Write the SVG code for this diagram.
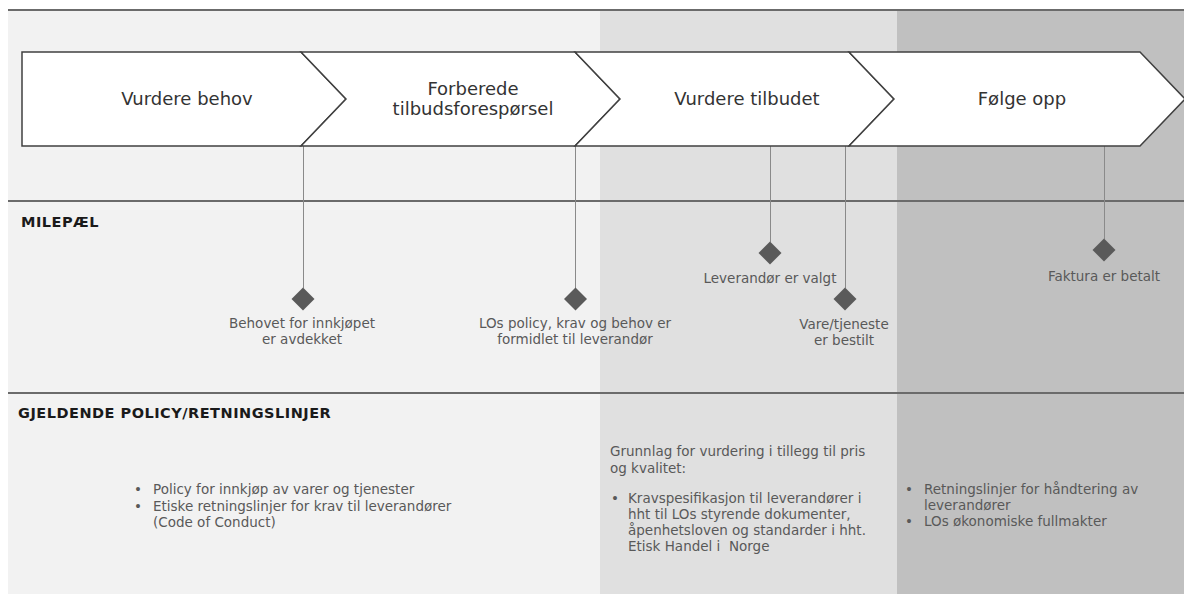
<svg xmlns="http://www.w3.org/2000/svg" width="1184" height="594" viewBox="0 0 1184 594">
<style>
.chev{fill:#fff;stroke:#404040;stroke-width:1.5;stroke-linejoin:miter}
.ct{font-family:"DejaVu Sans",Verdana,sans-serif;font-size:18px;fill:#333;text-anchor:middle}
.lbl{font-family:"DejaVu Sans",Verdana,sans-serif;font-size:13.5px;fill:#595959;text-anchor:middle}
.body{font-family:"DejaVu Sans",Verdana,sans-serif;font-size:13.5px;fill:#595959}
.hdr{font-family:"DejaVu Sans",Verdana,sans-serif;font-size:14.5px;font-weight:bold;fill:#1a1a1a;letter-spacing:0.5px}
.conn{stroke:#8a8a8a;stroke-width:1;fill:none}
.dia{fill:#5a5a5a}
.sep{stroke:#6b6b6b;stroke-width:2}
</style>
<rect x="0" y="0" width="1184" height="594" fill="#fff"/>
<g id="background">
<rect x="8" y="10" width="592" height="584" fill="#f2f2f2"/>
<rect x="600" y="10" width="297" height="584" fill="#e0e0e0"/>
<rect x="897" y="10" width="287" height="584" fill="#c0c0c0"/>
<line class="sep" x1="8" y1="10" x2="1184" y2="10" stroke="#808080"/>
<line class="sep" x1="8" y1="201" x2="1184" y2="201"/>
<line class="sep" x1="8" y1="393" x2="1184" y2="393"/>
</g>
<g id="connectors">
<line class="conn" x1="303.5" y1="146" x2="303.5" y2="288"/>
<line class="conn" x1="575.5" y1="146" x2="575.5" y2="288"/>
<line class="conn" x1="770.5" y1="146" x2="770.5" y2="242"/>
<line class="conn" x1="845.5" y1="146" x2="845.5" y2="288"/>
<line class="conn" x1="1104.5" y1="146" x2="1104.5" y2="239"/>
</g>
<g id="step-vurdere-behov">
<path class="chev" d="M22,52 H301 L346,99 L301,146 H22 Z"/>
<text class="ct" x="187" y="105">Vurdere behov</text>
</g>
<g id="step-forberede">
<path class="chev" d="M301,52 H575 L620,99 L575,146 H301 L346,99 Z"/>
<text class="ct" x="473" y="95">Forberede</text>
<text class="ct" x="473" y="115">tilbudsforespørsel</text>
</g>
<g id="step-vurdere-tilbudet">
<path class="chev" d="M575,52 H849 L894,99 L849,146 H575 L620,99 Z"/>
<text class="ct" x="747" y="105">Vurdere tilbudet</text>
</g>
<g id="step-folge-opp">
<path class="chev" d="M849,52 H1140 L1185,99 L1140,146 H849 L894,99 Z"/>
<text class="ct" x="1022" y="105">Følge opp</text>
</g>
<g id="header-milepael">
<text class="hdr" x="21" y="227">MILEPÆL</text>
</g>
<g id="milestone-1">
<path class="dia" d="M303,287.5 L314.5,299 L303,310.5 L291.5,299 Z"/>
<text class="lbl" x="302" y="328">Behovet for innkjøpet</text>
<text class="lbl" x="302" y="344">er avdekket</text>
</g>
<g id="milestone-2">
<path class="dia" d="M575.5,287.5 L587,299 L575.5,310.5 L564,299 Z"/>
<text class="lbl" x="575" y="328">LOs policy, krav og behov er</text>
<text class="lbl" x="575" y="344">formidlet til leverandør</text>
</g>
<g id="milestone-3">
<path class="dia" d="M770,241.5 L781.5,253 L770,264.5 L758.5,253 Z"/>
<text class="lbl" x="770" y="283">Leverandør er valgt</text>
</g>
<g id="milestone-4">
<path class="dia" d="M845,287.5 L856.5,299 L845,310.5 L833.5,299 Z"/>
<text class="lbl" x="844" y="329">Vare/tjeneste</text>
<text class="lbl" x="844" y="345">er bestilt</text>
</g>
<g id="milestone-5">
<path class="dia" d="M1104,238.5 L1115.5,250 L1104,261.5 L1092.5,250 Z"/>
<text class="lbl" x="1104" y="281">Faktura er betalt</text>
</g>
<g id="header-policy">
<text class="hdr" x="18" y="418">GJELDENDE POLICY/RETNINGSLINJER</text>
</g>
<g id="policy-left">
<text class="body" x="134" y="494">•</text>
<text class="body" x="153" y="494">Policy for innkjøp av varer og tjenester</text>
<text class="body" x="134" y="510.5">•</text>
<text class="body" x="153" y="510.5">Etiske retningslinjer for krav til leverandører</text>
<text class="body" x="153" y="527">(Code of Conduct)</text>
</g>
<g id="policy-middle">
<text class="body" x="610" y="456">Grunnlag for vurdering i tillegg til pris</text>
<text class="body" x="610" y="473">og kvalitet:</text>
<text class="body" x="611" y="503">•</text>
<text class="body" x="628" y="503">Kravspesifikasjon til leverandører i</text>
<text class="body" x="628" y="519">hht til LOs styrende dokumenter,</text>
<text class="body" x="628" y="535">åpenhetsloven og standarder i hht.</text>
<text class="body" x="628" y="551" style="white-space:pre">Etisk Handel i  Norge</text>
</g>
<g id="policy-right">
<text class="body" x="905" y="494">•</text>
<text class="body" x="924" y="494">Retningslinjer for håndtering av</text>
<text class="body" x="924" y="510">leverandører</text>
<text class="body" x="905" y="526">•</text>
<text class="body" x="924" y="526">LOs økonomiske fullmakter</text>
</g>
</svg>
